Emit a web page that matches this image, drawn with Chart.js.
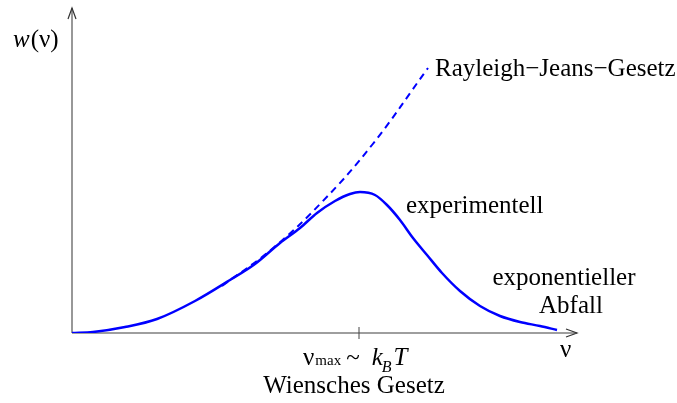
<!DOCTYPE html>
<html>
<head>
<meta charset="utf-8">
<script src="https://cdn.jsdelivr.net/npm/chart.js@4/dist/chart.umd.min.js"></script>
<style>
  html, body { margin: 0; padding: 0; background: #fff; }
  #wrap { width: 677px; height: 403px; }
</style>
</head>
<body>
<div id="wrap"><canvas id="planck"></canvas></div>
<script>
// frequency (arb. units) and spectral density for the measured curve
const nuExp = [0, 0.21, 0.53, 0.85, 1.23, 1.58, 1.83, 2.08, 2.28, 2.45, 2.63, 2.78, 2.88, 3.03, 3.15, 3.28, 3.41, 3.55, 3.70, 3.88, 4.08, 4.28, 4.48, 4.68, 4.85];
const wExp  = [0, 0.01, 0.06, 0.14, 0.32, 0.53, 0.69, 0.90, 1.05, 1.20, 1.32, 1.39, 1.41, 1.38, 1.28, 1.13, 0.95, 0.78, 0.60, 0.42, 0.27, 0.17, 0.11, 0.07, 0.03];
// Rayleigh-Jeans branch (dashed)
const nuRJ = [1.5, 2.0, 2.5, 3.0, 3.56];
const wRJ  = [0.47, 0.84, 1.31, 1.88, 2.65];
// axis ranges and the one marked tick
const nuMax = 2.87;
const xRange = [0, 5.05];
const yRange = [0, 3.25];

const serif = '"Liberation Serif", "Times New Roman", serif';
const blue = '#0000ff';
const axisGrey = '#7f7f7f';

function pts(xs, ys) {
  return xs.map((x, i) => ({ x: x, y: ys[i] }));
}

function txt(ctx, s, x, y, size, opts) {
  opts = opts || {};
  ctx.font = (opts.italic ? 'italic ' : '') + size + 'px ' + serif;
  ctx.textAlign = opts.align || 'left';
  ctx.textBaseline = 'alphabetic';
  ctx.fillStyle = '#000';
  ctx.fillText(s, x, y);
  return ctx.measureText(s).width;
}

// axes with arrows, tick at nu_max and all the annotations
const decor = {
  id: 'decor',
  beforeDatasetsDraw(chart) {
    const ctx = chart.ctx;
    const a = chart.chartArea;
    ctx.save();
    ctx.strokeStyle = axisGrey;
    ctx.lineWidth = 1.6;
    ctx.beginPath();
    ctx.moveTo(a.left, a.bottom);
    ctx.lineTo(a.right, a.bottom);
    ctx.moveTo(a.left, a.bottom);
    ctx.lineTo(a.left, a.top);
    ctx.stroke();
    // arrow heads
    ctx.strokeStyle = '#333';
    ctx.lineWidth = 1.2;
    ctx.beginPath();
    ctx.moveTo(a.right - 11, a.bottom - 4);
    ctx.lineTo(a.right, a.bottom);
    ctx.lineTo(a.right - 11, a.bottom + 4);
    ctx.moveTo(a.left - 4, a.top + 11);
    ctx.lineTo(a.left, a.top);
    ctx.lineTo(a.left + 4, a.top + 11);
    ctx.stroke();
    // tick
    const tx = chart.scales.x.getPixelForValue(nuMax);
    ctx.strokeStyle = '#444';
    ctx.lineWidth = 1;
    ctx.beginPath();
    ctx.moveTo(tx, a.bottom - 6);
    ctx.lineTo(tx, a.bottom + 6);
    ctx.stroke();
    ctx.restore();
  },
  afterDatasetsDraw(chart) {
    const ctx = chart.ctx;
    const a = chart.chartArea;
    const xs = chart.scales.x, ys = chart.scales.y;
    const fs = 25;
    ctx.save();
    // y axis label w(nu)
    let x = a.left - 59;
    x += txt(ctx, 'w', x, a.top + 39, fs, { italic: true });
    txt(ctx, '(ν)', x + 1, a.top + 39, fs);
    // x axis label
    txt(ctx, 'ν', a.right - 17, a.bottom + 24, fs);
    // Rayleigh-Jeans label at the end of the dashed line
    const rx = xs.getPixelForValue(nuRJ[nuRJ.length - 1]);
    const ry = ys.getPixelForValue(wRJ[wRJ.length - 1]);
    txt(ctx, 'Rayleigh\u2212Jeans\u2212Gesetz', rx + 7, ry + 8, fs);
    // experimentell near the peak
    const px = xs.getPixelForValue(nuMax);
    const py = ys.getPixelForValue(Math.max(...wExp));
    txt(ctx, 'experimentell', px + 47, py + 21, fs);
    // tail label
    txt(ctx, 'exponentieller', a.right - 13, a.bottom - 48, fs, { align: 'center' });
    txt(ctx, 'Abfall', a.right - 6, a.bottom - 20, fs, { align: 'center' });
    // nu_max ~ k_B T
    const by = a.bottom + 32;
    x = px - 56;
    x += txt(ctx, 'ν', x, by, fs);
    x += txt(ctx, 'max', x + 1, by, 15) + 6;
    x += txt(ctx, '~', x, by, fs) + 12;
    x += txt(ctx, 'k', x, by, fs, { italic: true });
    x += txt(ctx, 'B', x - 1, by + 7, 16, { italic: true }) + 1;
    txt(ctx, 'T', x, by, fs, { italic: true });
    txt(ctx, 'Wiensches Gesetz', px - 5, a.bottom + 60, fs, { align: 'center' });
    ctx.restore();
  }
};

new Chart(document.getElementById('planck'), {
  type: 'scatter',
  data: {
    datasets: [
      {
        label: 'experimentell',
        data: pts(nuExp, wExp),
        showLine: true,
        borderColor: blue,
        borderWidth: 2.5,
        pointRadius: 0,
        cubicInterpolationMode: 'monotone',
        fill: false
      },
      {
        label: 'Rayleigh-Jeans',
        data: pts(nuRJ, wRJ),
        showLine: true,
        borderColor: blue,
        borderWidth: 2,
        borderDash: [7, 5],
        pointRadius: 0,
        tension: 0.4,
        fill: false
      }
    ]
  },
  options: {
    responsive: true,
    maintainAspectRatio: false,
    animation: false,
    layout: { padding: { left: 72, right: 100, top: 8, bottom: 70 } },
    plugins: { legend: { display: false }, tooltip: { enabled: false } },
    scales: {
      x: { type: 'linear', min: xRange[0], max: xRange[1], display: false },
      y: { type: 'linear', min: yRange[0], max: yRange[1], display: false }
    }
  },
  plugins: [decor]
});
</script>
</body>
</html>
